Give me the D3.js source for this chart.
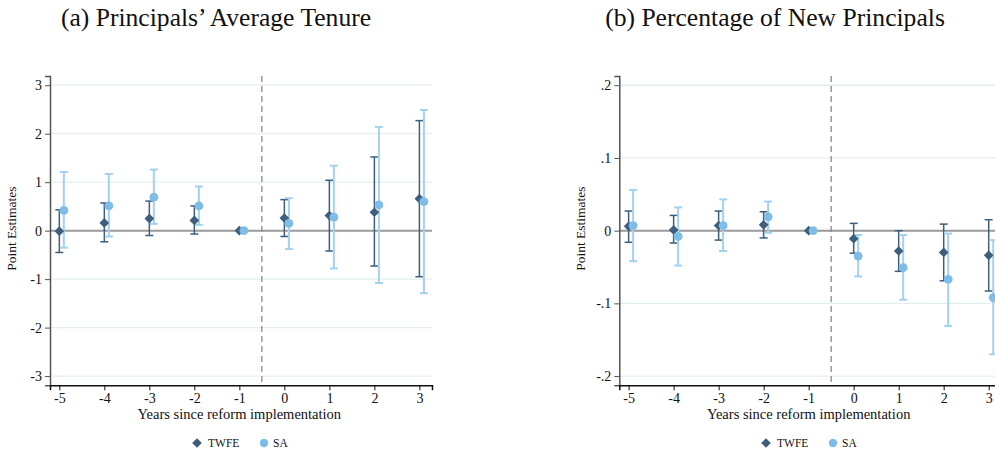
<!DOCTYPE html>
<html>
<head>
<meta charset="utf-8">
<script src="https://cdn.jsdelivr.net/npm/d3@7"></script>
<style>
  body { margin: 0; background: #fff; }
  svg text { font-family: "Liberation Serif", "Times New Roman", serif; fill: #111; }
</style>
</head>
<body>
<svg id="chart" width="995" height="454"></svg>
<script>
// event time (years since reform)
const years = [-5, -4, -3, -2, -1, 0, 1, 2, 3];

// panel (a) Principals' Average Tenure
const tenureTwfe   = [-0.01, 0.16, 0.25, 0.21, 0, 0.26, 0.31, 0.38, 0.66];
const tenureTwfeLo = [-0.45, -0.23, -0.10, -0.07, 0, -0.12, -0.42, -0.73, -0.95];
const tenureTwfeHi = [0.43, 0.57, 0.61, 0.51, 0, 0.64, 1.04, 1.52, 2.27];
const tenureSa     = [0.42, 0.51, 0.69, 0.51, 0, 0.15, 0.28, 0.53, 0.60];
const tenureSaLo   = [-0.35, -0.12, 0.14, 0.12, 0, -0.38, -0.78, -1.08, -1.29];
const tenureSaHi   = [1.21, 1.17, 1.26, 0.91, 0, 0.67, 1.34, 2.14, 2.49];

// panel (b) Percentage of New Principals
const newTwfe   = [0.006, 0.001, 0.007, 0.008, 0, -0.011, -0.028, -0.030, -0.034];
const newTwfeLo = [-0.016, -0.017, -0.013, -0.010, 0, -0.031, -0.056, -0.069, -0.083];
const newTwfeHi = [0.027, 0.021, 0.027, 0.026, 0, 0.010, 0.000, 0.009, 0.015];
const newSa     = [0.007, -0.008, 0.007, 0.019, 0, -0.035, -0.051, -0.067, -0.092];
const newSaLo   = [-0.042, -0.048, -0.028, -0.003, 0, -0.063, -0.095, -0.131, -0.170];
const newSaHi   = [0.056, 0.032, 0.043, 0.040, 0, -0.006, -0.006, -0.004, -0.013];

const tenureTicks = [-3, -2, -1, 0, 1, 2, 3];
const newTicks = [-0.2, -0.1, 0, 0.1, 0.2];

const TWFE_COL = "#3d5f7c";
const SA_COL = "#7dbde8";
const SA_CI_COL = "#a3d1f0";
const SERIF = "'Liberation Serif', 'Times New Roman', serif";

const svg = d3.select("#chart");

// stata style labels: plain hyphen, no leading zero
function fmtInt(v) { return String(v); }
function fmtShare(v) {
  if (v === 0) return "0";
  return (v < 0 ? "-" : "") + Math.abs(v).toFixed(1).replace(/^0/, "");
}

function drawPanel(opt) {
  const x = d3.scaleLinear().domain([-5.207, 3.28]).range([opt.left, opt.left + 382]);
  const y = d3.scaleLinear().domain([-opt.ymax, opt.ymax]).range([385.3, 76]);
  const g = svg.append("g");

  // title
  g.append("text")
    .attr("x", opt.titleX).attr("y", 26)
    .attr("text-anchor", "middle")
    .style("font-size", "25.6px")
    .text(opt.title);

  // grid
  g.selectAll(".grid").data(opt.ticks.filter(t => t !== 0)).enter()
    .append("line")
    .attr("x1", x.range()[0]).attr("x2", x.range()[1])
    .attr("y1", d => y(d)).attr("y2", d => y(d))
    .attr("stroke", "#e4eef0").attr("stroke-width", 1.3);

  // zero line
  g.append("line")
    .attr("x1", x.range()[0]).attr("x2", x.range()[1])
    .attr("y1", y(0)).attr("y2", y(0))
    .attr("stroke", "#9a9a9a").attr("stroke-width", 2);

  // reform line
  g.append("line")
    .attr("x1", x(-0.5)).attr("x2", x(-0.5))
    .attr("y1", y.range()[1]).attr("y2", y.range()[0])
    .attr("stroke", "#8a8a8a").attr("stroke-width", 1.3)
    .attr("stroke-dasharray", "6,4");

  // axes
  const yAxis = d3.axisLeft(y).tickValues(opt.ticks).tickSize(5).tickPadding(3)
    .tickFormat(opt.fmt);
  const ya = g.append("g").attr("transform", "translate(" + x.range()[0] + ",0)").call(yAxis)
    .attr("font-family", SERIF).attr("font-size", 14);
  ya.select(".domain").attr("stroke", "#555").attr("stroke-width", 1.5);
  ya.selectAll(".tick line").attr("stroke", "#555");
  ya.selectAll("text").attr("fill", "#111");

  const xAxis = d3.axisBottom(x).tickValues(years).tickSize(5).tickPadding(3)
    .tickFormat(fmtInt);
  const xa = g.append("g").attr("transform", "translate(0,385.3)").call(xAxis)
    .attr("font-family", SERIF).attr("font-size", 14);
  xa.select(".domain").attr("stroke", "#111").attr("stroke-width", 1.5);
  xa.selectAll(".tick line").attr("stroke", "#111");
  xa.selectAll("text").attr("fill", "#111");

  g.append("text")
    .attr("x", x(-1)).attr("y", 419)
    .attr("text-anchor", "middle")
    .style("font-size", "14.5px")
    .text("Years since reform implementation");

  g.append("text")
    .attr("transform", "translate(" + (opt.left - 34) + "," + (y(0) - 2) + ") rotate(-90)")
    .attr("text-anchor", "middle")
    .style("font-size", "13.5px")
    .text("Point Estimates");

  // confidence intervals
  function ci(lo, hi, dx, col, w) {
    const rows = years.map((yr, i) => ({ yr: yr, lo: lo[i], hi: hi[i] })).filter(d => d.lo !== d.hi);
    const c = g.append("g");
    c.selectAll(".v").data(rows).enter().append("line")
      .attr("x1", d => x(d.yr + dx)).attr("x2", d => x(d.yr + dx))
      .attr("y1", d => y(d.lo)).attr("y2", d => y(d.hi))
      .attr("stroke", col).attr("stroke-width", w);
    ["lo", "hi"].forEach(k => {
      c.selectAll(".c" + k).data(rows).enter().append("line")
        .attr("x1", d => x(d.yr + dx) - 4).attr("x2", d => x(d.yr + dx) + 4)
        .attr("y1", d => y(d[k])).attr("y2", d => y(d[k]))
        .attr("stroke", col).attr("stroke-width", w);
    });
  }
  ci(opt.twfeLo, opt.twfeHi, 0, TWFE_COL, 1.5);
  ci(opt.saLo, opt.saHi, 0.1, SA_CI_COL, 2);

  const diamond = d3.symbol().type(d3.symbolDiamond2).size(60);
  g.selectAll(".tw").data(years).enter().append("path")
    .attr("d", diamond)
    .attr("transform", (d, i) => "translate(" + x(d) + "," + y(opt.twfe[i]) + ")")
    .attr("fill", TWFE_COL);
  g.selectAll(".sa").data(years).enter().append("circle")
    .attr("cx", d => x(d + 0.1))
    .attr("cy", (d, i) => y(opt.sa[i]))
    .attr("r", 4.4)
    .attr("fill", SA_COL);

  // legend
  const lg = g.append("g").attr("transform", "translate(" + opt.legendX + ",443)");
  lg.append("path").attr("d", diamond).attr("fill", TWFE_COL);
  lg.append("text").attr("x", 11).attr("y", 4).style("font-size", "11.5px").text("TWFE");
  lg.append("circle").attr("cx", 67).attr("cy", 0).attr("r", 4.2).attr("fill", SA_COL);
  lg.append("text").attr("x", 76).attr("y", 4).style("font-size", "11.5px").text("SA");
}

drawPanel({
  left: 50, ymax: 3.19, ticks: tenureTicks, fmt: fmtInt,
  title: "(a) Principals\u2019 Average Tenure", titleX: 216, legendX: 197,
  twfe: tenureTwfe, twfeLo: tenureTwfeLo, twfeHi: tenureTwfeHi,
  sa: tenureSa, saLo: tenureSaLo, saHi: tenureSaHi
});

drawPanel({
  left: 619.3, ymax: 0.2127, ticks: newTicks, fmt: fmtShare,
  title: "(b) Percentage of New Principals", titleX: 775, legendX: 766,
  twfe: newTwfe, twfeLo: newTwfeLo, twfeHi: newTwfeHi,
  sa: newSa, saLo: newSaLo, saHi: newSaHi
});
</script>
</body>
</html>
